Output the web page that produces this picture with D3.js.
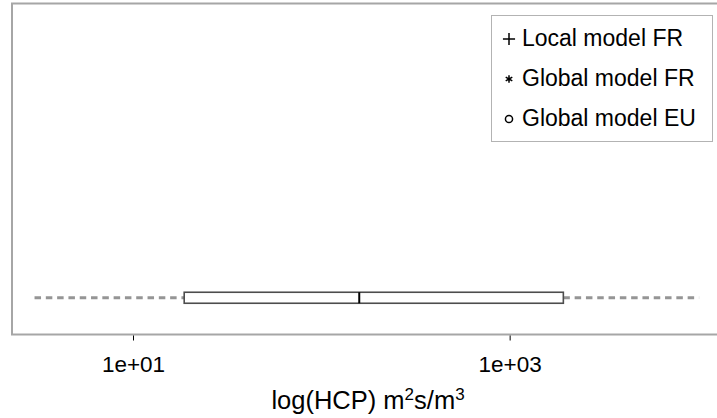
<!DOCTYPE html>
<html>
<head>
<meta charset="utf-8">
<script src="https://cdn.jsdelivr.net/npm/d3@7"></script>
<style>
  body { margin: 0; background: #fff; }
  text { font-family: "Liberation Sans", Arial, sans-serif; }
</style>
</head>
<body>
<div id="chart"></div>
<script>
// Data
var category = ["HCP"];
var boxStats = [{ low: 3.0, q1: 18.7, median: 159, q3: 1928, high: 10140 }];
var tickValues = [10, 1000];
var tickLabels = ["1e+01", "1e+03"];
var legendLabels = ["Local model FR", "Global model FR", "Global model EU"];
var legendSymbols = ["plus", "asterisk", "circle"];
var xDomain = [2.25, 13090];

var svgWidth = 717;
var svgHeight = 418;

// panel edges
var panel = { left: 12, top: 3.5, right: 720, bottom: 334.5 };

var svg = d3.select("#chart")
  .append("svg")
  .attr("width", svgWidth)
  .attr("height", svgHeight);

var xScale = d3.scaleLog()
  .domain(xDomain)
  .range([panel.left - 1, panel.right]);

var yScale = d3.scaleBand()
  .domain(category)
  .range([334.5, 261])
  .padding(0);

// panel border
svg.append("rect")
  .attr("x", panel.left)
  .attr("y", panel.top)
  .attr("width", panel.right - panel.left)
  .attr("height", panel.bottom - panel.top)
  .attr("fill", "none")
  .attr("stroke", "#a6a6a6")
  .attr("stroke-width", 2);

// box plot
var boxH = 11;
var g = svg.append("g");
boxStats.forEach(function(d, i) {
  var cy = yScale(category[i]) + yScale.bandwidth() / 2;
  g.append("line")
    .attr("x1", xScale(d.low)).attr("x2", xScale(d.q1))
    .attr("y1", cy).attr("y2", cy)
    .attr("stroke", "#959595").attr("stroke-width", 3)
    .attr("stroke-dasharray", "6.5,4.8");
  g.append("line")
    .attr("x1", xScale(d.q3)).attr("x2", xScale(d.high))
    .attr("y1", cy).attr("y2", cy)
    .attr("stroke", "#959595").attr("stroke-width", 3)
    .attr("stroke-dasharray", "6.5,4.8");
  g.append("rect")
    .attr("x", xScale(d.q1))
    .attr("y", cy - boxH / 2)
    .attr("width", xScale(d.q3) - xScale(d.q1))
    .attr("height", boxH)
    .attr("fill", "#fff")
    .attr("stroke", "#4d4d4d")
    .attr("stroke-width", 1.6);
  g.append("line")
    .attr("x1", xScale(d.median)).attr("x2", xScale(d.median))
    .attr("y1", cy - boxH / 2).attr("y2", cy + boxH / 2)
    .attr("stroke", "#000").attr("stroke-width", 2);
});

// x axis
var xAxis = d3.axisBottom(xScale)
  .tickValues(tickValues)
  .tickFormat(function(d, i) { return tickLabels[i]; })
  .tickSize(5)
  .tickPadding(16);

var axisG = svg.append("g")
  .attr("transform", "translate(0," + (panel.bottom + 1) + ")")
  .call(xAxis);
axisG.select(".domain").remove();
axisG.selectAll(".tick line").attr("stroke", "#000");
axisG.selectAll(".tick text")
  .attr("fill", "#000")
  .style("font-size", "22.5px")
  .style("font-family", "'Liberation Sans', Arial, sans-serif");

// axis title
var title = svg.append("text")
  .attr("x", 368)
  .attr("y", 409)
  .attr("text-anchor", "middle")
  .style("font-size", "25.5px")
  .attr("fill", "#000");
title.append("tspan").text("log(HCP) m");
title.append("tspan").attr("dy", -9).style("font-size", "17px").text("2");
title.append("tspan").attr("dy", 9).text("s/m");
title.append("tspan").attr("dy", -9).style("font-size", "17px").text("3");

// legend
var legend = svg.append("g");
legend.append("rect")
  .attr("x", 491.5).attr("y", 15.5)
  .attr("width", 221).attr("height", 126)
  .attr("fill", "#fff")
  .attr("stroke", "#b3b3b3")
  .attr("stroke-width", 1);

var symbolTypes = { plus: d3.symbolPlus, asterisk: d3.symbolAsterisk, circle: d3.symbolCircle };
var symbolSizes = { plus: 50, asterisk: 40, circle: 40 };

legendLabels.forEach(function(label, i) {
  var baseY = 46 + i * 40;
  var s = legendSymbols[i];
  legend.append("path")
    .attr("d", d3.symbol().type(symbolTypes[s]).size(symbolSizes[s])())
    .attr("transform", "translate(509," + (baseY - 7) + ")")
    .attr("fill", "none")
    .attr("stroke", "#000")
    .attr("stroke-width", 1.5);
  legend.append("text")
    .attr("x", 522)
    .attr("y", baseY)
    .style("font-size", "23px")
    .attr("fill", "#000")
    .text(label);
});
</script>
</body>
</html>
